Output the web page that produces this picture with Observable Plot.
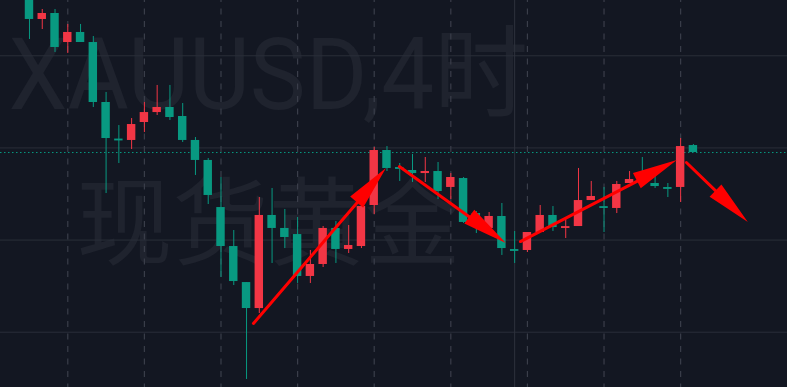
<!DOCTYPE html>
<html><head><meta charset="utf-8">
<script src="https://cdn.jsdelivr.net/npm/d3@7"></script>
<script src="https://cdn.jsdelivr.net/npm/@observablehq/plot@0.6"></script>
<style>html,body{margin:0;padding:0;background:#131722;overflow:hidden}</style>
</head><body><div id="chart"></div>
<script>
const symbolTitle = "XAUUSD,4时";
const symbolName = "现货黄金";

// 4h candles, index 0..52 (red = up, green = down)
const candleOpen  = [2346.54,2343.94,2344.59,2341.44,2342.53,2341.44,2334.93,2330.96,2330.81,2332.76,
                     2333.84,2334.39,2333.41,2330.81,2328.64,2323.53,2319.30,2315.39,2312.57,2322.67,
                     2321.26,2320.60,2316.05,2317.35,2321.26,2318.98,2319.30,2323.75,2329.72,2327.87,
                     2327.55,2327.22,2327.44,2325.71,2326.68,2322.88,2321.26,2322.56,2318.97,2318.87,
                     2320.82,2322.67,2321.26,2321.47,2324.29,2323.63,2323.43,2326.14,2327.33,2326.14,
                     2325.70,2325.71,2330.26];
const candleHigh  = [2347.30,2345.02,2345.02,2343.40,2343.40,2342.09,2336.02,2332.43,2333.19,2334.93,
                     2336.78,2336.78,2334.82,2331.13,2328.85,2326.79,2321.04,2315.39,2324.62,2325.60,
                     2323.32,2322.45,2318.87,2321.47,2322.01,2321.58,2324.62,2330.05,2330.15,2328.31,
                     2329.29,2328.96,2328.42,2327.22,2326.79,2323.10,2322.99,2323.97,2320.93,2320.82,
                     2323.75,2323.64,2322.34,2327.77,2326.36,2325.71,2326.36,2327.44,2328.96,2326.90,
                     2326.14,2331.02,2330.37];
const candleLow   = [2341.77,2342.85,2340.36,2340.25,2341.44,2334.39,2325.05,2328.31,2329.83,2331.67,
                     2333.52,2332.98,2330.59,2327.01,2323.86,2315.94,2315.07,2304.87,2312.03,2317.46,
                     2319.08,2315.29,2315.29,2317.02,2317.46,2318.54,2319.08,2322.77,2327.44,2326.36,
                     2326.25,2326.25,2324.40,2324.40,2321.80,2320.71,2321.04,2318.33,2317.46,2318.65,
                     2320.82,2320.93,2320.17,2321.47,2324.29,2320.82,2322.88,2326.14,2326.46,2325.60,
                     2324.62,2324.08,2329.50];
const candleClose = [2343.94,2344.59,2340.90,2342.53,2341.44,2334.93,2331.02,2330.76,2332.54,2333.84,
                     2334.39,2333.30,2330.81,2328.64,2324.84,2319.30,2315.50,2312.57,2322.67,2321.26,
                     2320.28,2316.05,2317.35,2321.26,2318.98,2319.41,2323.64,2329.72,2327.77,2327.67,
                     2327.22,2327.44,2325.27,2326.79,2321.91,2321.47,2322.56,2319.08,2318.77,2320.82,
                     2322.67,2321.36,2321.46,2324.29,2324.73,2323.43,2326.03,2326.57,2326.68,2325.81,
                     2325.50,2330.15,2329.50];

const gridPrices = [2310, 2320, 2330, 2340];
const dayStartIndex = [3, 9, 15, 21, 27, 33, 39, 45, 51];
const crosshairIndex = 38;

// hand-drawn arrows (candle index, price)
const arrowFromIndex = [17.54, 28.97, 38.45, 51.45];
const arrowFromPrice = [2310.95, 2327.98, 2319.84, 2328.42];
const arrowToIndex   = [27.96, 37.35, 50.74, 56.30];
const arrowToPrice   = [2327.77, 2319.63, 2328.64, 2321.91];

const W = 787, H = 387;
const xDomain = [-2.27, 59.37];
const yDomain = [2304, 2346];
const UP = "#f23645", DOWN = "#089981";

const candles = candleOpen.map((o, i) => ({
  i, open: o, high: candleHigh[i], low: candleLow[i], close: candleClose[i],
  color: candleClose[i] >= o ? UP : DOWN
}));
const lastPrice = candleClose[candleClose.length - 1];

// arrow geometry in pixel space, converted back through the same scales
const sx = d3.scaleLinear(xDomain, [0, W]);
const sy = d3.scaleLinear(yDomain, [H, 0]);
const headLen = 45, headHalf = 8.5;
const shafts = [], heads = [];
arrowFromIndex.forEach((fx, k) => {
  const x0 = sx(fx), y0 = sy(arrowFromPrice[k]);
  const x1 = sx(arrowToIndex[k]), y1 = sy(arrowToPrice[k]);
  const len = Math.hypot(x1 - x0, y1 - y0);
  const ux = (x1 - x0) / len, uy = (y1 - y0) / len;
  const nx = -uy, ny = ux;
  const bx = x1 - ux * headLen, by = y1 - uy * headLen;
  const ex = x1 - ux * headLen * 0.6, ey = y1 - uy * headLen * 0.6;
  shafts.push({x1: fx, y1: arrowFromPrice[k], x2: sx.invert(ex), y2: sy.invert(ey)});
  const v = [[x1, y1], [bx + nx * headHalf, by + ny * headHalf], [bx - nx * headHalf, by - ny * headHalf]]
    .map(([px, py]) => ({x: sx.invert(px), y: sy.invert(py)}))
    .sort((a, b) => a.x - b.x);
  const [a, m, c] = v;
  const t = (m.x - a.x) / (c.x - a.x);
  const yi = a.y + t * (c.y - a.y);
  heads.push({id: k, x: a.x, y1: a.y, y2: a.y});
  heads.push({id: k, x: m.x, y1: yi, y2: m.y});
  heads.push({id: k, x: c.x, y1: c.y, y2: c.y});
});

const plot = Plot.plot({
  width: W, height: H,
  marginTop: 0, marginRight: 0, marginBottom: 0, marginLeft: 0,
  x: {type: "linear", domain: xDomain, axis: null},
  y: {type: "linear", domain: yDomain, axis: null},
  style: {background: "#131722", overflow: "hidden"},
  marks: [
    Plot.text([symbolTitle], {frameAnchor: "top-left", dx: 8, dy: 76, textAnchor: "start", lineAnchor: "middle",
      fontSize: 100, fontFamily: "Roboto, 'Noto Sans CJK SC', sans-serif", fill: "#1f232e"}),
    Plot.text([symbolName], {frameAnchor: "top-left", dx: 76, dy: 226, textAnchor: "start", lineAnchor: "middle",
      fontSize: 96, fontFamily: "'Noto Sans CJK SC', sans-serif", fill: "#1f232e"}),
    Plot.ruleY(gridPrices, {stroke: "#2a2e39", strokeWidth: 1}),
    Plot.ruleX(dayStartIndex, {stroke: "#3a3e4a", strokeWidth: 1.2, strokeDasharray: "6,6.5", strokeDashoffset: 4}),
    Plot.ruleX([crosshairIndex], {stroke: "#2e323d", strokeWidth: 1}),
    Plot.ruleY([lastPrice], {stroke: DOWN, strokeWidth: 1, strokeDasharray: "1.5,2.5"}),
    Plot.ruleX(candles, {x: "i", y1: "low", y2: "high", stroke: "color", strokeWidth: 1}),
    Plot.rect(candles, {x1: d => d.i - 0.33, x2: d => d.i + 0.33, y1: "open", y2: "close", fill: "color"}),
    Plot.link(shafts, {x1: "x1", y1: "y1", x2: "x2", y2: "y2", stroke: "#ff0000", strokeWidth: 3, strokeLinecap: "round"}),
    Plot.area(heads, {x1: "x", y1: "y1", y2: "y2", z: "id", fill: "#ff0000"})
  ]
});
document.getElementById("chart").appendChild(plot);

// narrow the watermark title to the reference's width
for (const t of plot.querySelectorAll("text")) {
  if (t.textContent === symbolTitle) {
    const w = t.getComputedTextLength();
    t.setAttribute("textLength", (w * 0.94).toFixed(1));
    t.setAttribute("lengthAdjust", "spacingAndGlyphs");
  }
}
</script>
</body></html>
